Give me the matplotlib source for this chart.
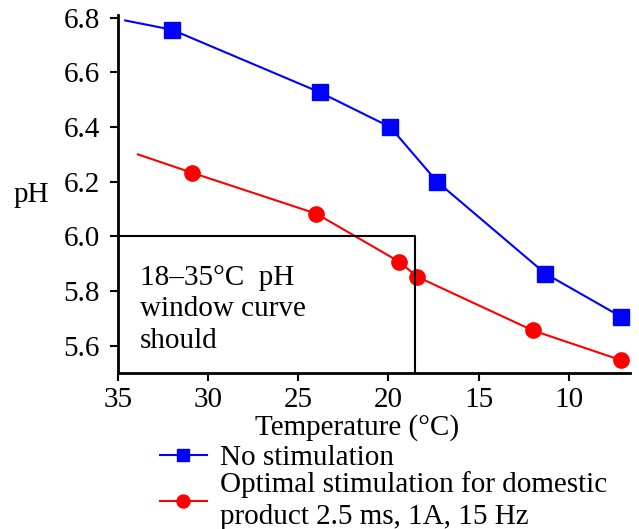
import matplotlib
matplotlib.use("Agg")
import matplotlib.pyplot as plt

plt.rcParams['font.family'] = ['Liberation Serif', 'DejaVu Serif']

# Data
temp_none = [34.6, 32.0, 23.8, 19.9, 17.3, 11.3, 7.1]
ph_none = [6.79, 6.756, 6.527, 6.40, 6.20, 5.864, 5.706]
temp_opt = [33.9, 30.9, 24.0, 19.4, 18.4, 12.0, 7.1]
ph_opt = [6.30, 6.233, 6.083, 5.907, 5.852, 5.656, 5.547]
xticks = [35, 30, 25, 20, 15, 10]
yticks = [5.6, 5.8, 6.0, 6.2, 6.4, 6.6, 6.8]
label_none = "No stimulation"
label_opt = "Optimal stimulation for domestic\nproduct 2.5 ms, 1A, 15 Hz"
box_x = 18.5
box_y = 6.0
box_text = "18\u201335\u00b0C  pH\nwindow curve\nshould"

W, H = 639, 529
fig = plt.figure(figsize=(W/100, H/100), dpi=100)
ax = fig.add_axes([118/W, 1-373/H, (630-118)/W, (373-15)/H])

l1, = ax.plot(temp_none, ph_none, color='#0000ff', lw=1.5, marker='s', ms=11,
              markevery=list(range(1, len(temp_none))), label=label_none)
l2, = ax.plot(temp_opt, ph_opt, color='#ff0000', lw=1.5, marker='o', ms=11,
              markevery=list(range(1, len(temp_opt))), label=label_opt)

ax.plot([35, box_x, box_x], [box_y, box_y, 5.5], color='black', lw=1.5)
ax.text(33.8, 5.895, box_text, fontsize=21, va='top', ha='left', linespacing=1.27)

ax.set_xlim(35, 6.6)
ax.set_ylim(5.5, 6.81)
ax.set_xticks(xticks)
ax.set_yticks(yticks)
ax.set_xticklabels([str(t) for t in xticks])
ax.set_yticklabels([f"{t:.1f}" for t in yticks])
ax.tick_params(labelsize=21, width=1.5, length=6, direction='out')
ax.tick_params(axis='y', pad=7)
ax.tick_params(axis='x', pad=4)
for s in ['top', 'right']:
    ax.spines[s].set_visible(False)
for s in ['left', 'bottom']:
    ax.spines[s].set_linewidth(2)

ax.set_xlabel("Temperature (\u00b0C)", fontsize=21, labelpad=0)
ax.xaxis.set_label_coords((357-118)/(630-118), -(428-373)/(373-15), transform=ax.transAxes)
ax.xaxis.label.set_va('center')
ax.set_ylabel("pH", fontsize=21, rotation=0, va='center', ha='center')
ax.yaxis.set_label_coords(-(118-31)/(630-118), (373-195)/(373-15))

leg = fig.legend(handles=[l1, l2], labels=[label_none, label_opt], loc='upper left',
                 bbox_to_anchor=(160/W, 1-445/H), frameon=False, fontsize=21,
                 handlelength=1.6, handletextpad=0.45, labelspacing=0.0,
                 borderaxespad=0, borderpad=0, markerscale=0.85)
leg.get_texts()[1].set_linespacing(1.3)

fig.savefig("out.png", dpi=100)
